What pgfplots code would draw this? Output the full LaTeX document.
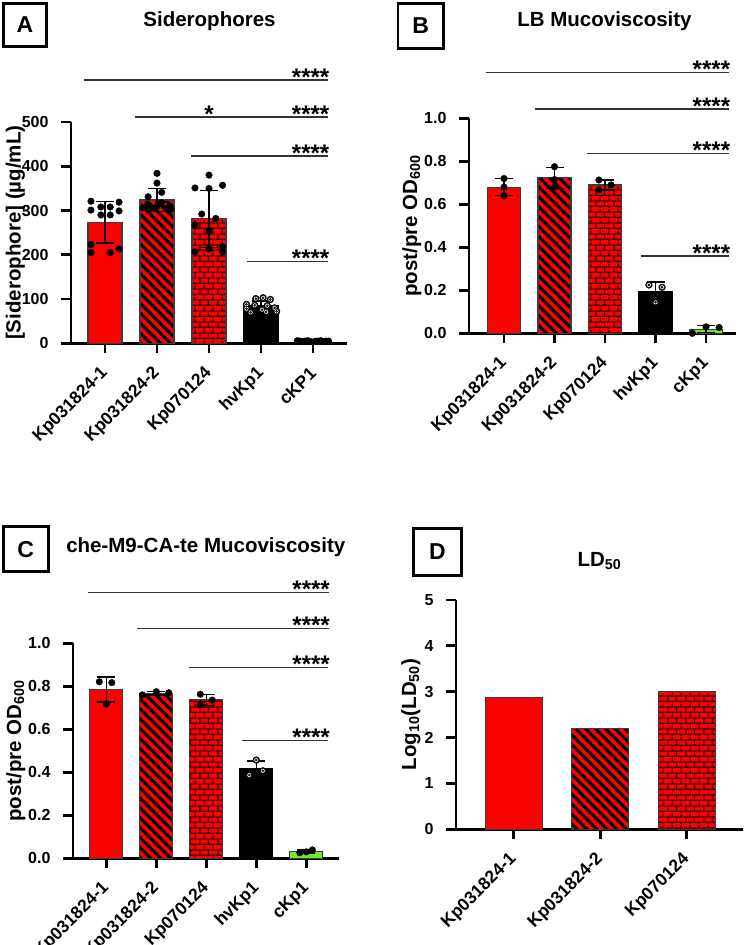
\documentclass[border=0pt]{standalone}
\usepackage{fontspec}
\setmainfont{Liberation Sans}
\usepackage{pgfplots}
\usepackage{pgfplotstable}
\pgfplotsset{compat=1.18}
\usetikzlibrary{patterns,patterns.meta}

\definecolor{barred}{RGB}{250,2,2}
\definecolor{barline}{RGB}{60,60,60}
\definecolor{mortar}{RGB}{60,0,0}
\definecolor{limebar}{RGB}{115,230,45}
\definecolor{sigline}{RGB}{50,50,50}

\newcommand{\tickfont}{\fontsize{16}{19}\selectfont\bfseries}
\newcommand{\xlabfont}{\fontsize{17.5}{20}\selectfont\bfseries}
\newcommand{\labfont}{\fontsize{20.5}{24}\selectfont\bfseries}
\newcommand{\titlefont}{\fontsize{20.5}{24}\selectfont\bfseries}
\newcommand{\starfont}{\fontsize{24}{26}\selectfont\bfseries}
\newcommand{\boxfont}{\fontsize{23}{26}\selectfont\bfseries}

% brick fill used for Kp070124
\tikzdeclarepattern{
  name=redbricks,
  type=uncolored,
  bottom left={(0pt,0pt)},
  top right={(18pt,11pt)},
  tile size={(18pt,11pt)},
  code={
    \draw[line width=1.3pt] (0pt,2pt) -- (18pt,2pt);
    \draw[line width=1.3pt] (0pt,7.5pt) -- (18pt,7.5pt);
    \draw[line width=1.3pt] (2pt,2pt) -- (2pt,7.5pt);
    \draw[line width=1.3pt] (11pt,2pt) -- (11pt,7.5pt);
    \draw[line width=1.3pt] (6.5pt,7.5pt) -- (6.5pt,11pt);
    \draw[line width=1.3pt] (6.5pt,0pt) -- (6.5pt,2pt);
    \draw[line width=1.3pt] (15.5pt,7.5pt) -- (15.5pt,11pt);
    \draw[line width=1.3pt] (15.5pt,0pt) -- (15.5pt,2pt);
  }
}

\pgfplotsset{
  panel/.style={
    scale only axis, clip=false,
    axis x line*=bottom, axis y line*=left,
    axis line style={line width=2.6pt, -},
    tick style={line width=2.6pt, black},
    major tick length=10pt,
    tick align=outside,
    ymin=0,
    /pgf/number format/assume math mode=true,
    yticklabel style={font=\tickfont, xshift=-9pt},
    xticklabel style={font=\xlabfont, xshift=2.5pt, yshift=-15pt, rotate=45, anchor=east},
  },
  solidbar/.style={ybar, bar shift=0pt, fill=barred, draw=barline, line width=1.2pt},
  stripebar/.style={solidbar, postaction={pattern={Lines[angle=-45,distance=7pt,line width=3pt]}, pattern color=black}},
  brickbar/.style={solidbar, postaction={pattern=redbricks, pattern color=mortar}},
  blackbar/.style={ybar, bar shift=0pt, fill=black, draw=black, line width=1.2pt},
  greenbar/.style={ybar, bar shift=0pt, fill=limebar, draw=barline, line width=1.2pt},
  sderr/.style={draw=none, mark=none, forget plot,
    error bars/.cd, y dir=both, y explicit, error mark=|,
    error bar style={draw=black, solid, line width=1.3pt},
    error mark options={draw=black, line width=1.3pt, mark size=9pt}},
  dots/.style={only marks, mark=*, mark size=3.3pt, mark options={draw=black, fill=black}},
  ringout/.style={only marks, mark=*, mark size=3.4pt, mark options={draw=black, fill=black}},
  ringin/.style={only marks, mark=*, mark size=2.4pt, mark options={draw=none, fill=white}},
  ringcore/.style={only marks, mark=*, mark size=1.1pt, mark options={draw=none, fill=black!70}},
}

% Siderophore replicates (x = strain index + jitter)
\pgfplotstableread{
x y
-0.27 321
0.27 319
-0.08 308
0.10 308
-0.27 301
0.27 299
-0.08 290
0.10 290
-0.27 223
0.27 213
-0.27 205
0.10 205
1.00 384
1.00 362
0.83 331
1.09 341
0.81 311
1.09 318
0.73 306
1.00 310
1.25 309
1.18 305
0.90 304
1.27 303
2.00 380
2.26 357
1.73 351
2.00 350
1.86 292
2.13 282
1.73 267
2.00 254
2.00 213
1.73 207
2.26 218
2.26 207
3.70 6
3.75 5
3.80 4
3.85 5
3.90 6
3.95 4
4.05 5
4.10 5
4.15 6
4.20 4
4.25 5
4.30 5
}\sidA
\pgfplotstableread{
x y
2.90 101
3.04 103
3.18 99
2.72 88
2.88 86
3.12 85
3.26 80
2.72 78
3.02 76
2.80 70
3.10 71
3.30 72
}\ringA

% LB mucoviscosity replicates
\pgfplotstableread{
x y
0.00 0.720
0.00 0.680
0.00 0.640
1.00 0.775
1.00 0.715
1.00 0.680
1.88 0.713
2.12 0.690
1.88 0.667
3.73 0.000
4.00 0.030
4.26 0.027
}\mucB
\pgfplotstableread{
x y
2.87 0.225
3.13 0.214
3.00 0.144
}\ringB

% che-M9-CA-te mucoviscosity replicates
\pgfplotstableread{
x y
-0.14 0.821
0.11 0.817
0.00 0.718
0.72 0.760
1.00 0.775
1.25 0.770
1.88 0.763
1.88 0.713
2.12 0.736
3.87 0.026
4.12 0.039
4.00 0.030
}\mucC
\pgfplotstableread{
x y
3.00 0.457
2.86 0.387
3.13 0.407
}\ringC

\begin{document}
\begin{tikzpicture}
\path[use as bounding box] (0pt,0pt) rectangle (744pt,-945pt);

% ---------------- A: Siderophores ----------------
\draw[line width=2.7pt] (3.3pt,-3.3pt) rectangle (46.7pt,-46.7pt);
\node[font=\boxfont] at (25pt,-25pt) {A};
\node[font=\titlefont, anchor=base] at (209.5pt,-26pt) {Siderophores};
\node[font=\labfont, rotate=90, anchor=base] at (20.5pt,-232.7pt) {[Siderophore] (µg/mL)};
\begin{axis}[panel, at={(71pt,-343.3pt)}, anchor=south west,
  width=276pt, height=221.3pt,
  xmin=-0.654, xmax=4.654, ymax=500,
  ytick={0,100,200,300,400,500}, yticklabels={0,100,200,300,400,500},
  xtick={0,1,2,3,4}, xticklabels={Kp031824-1,Kp031824-2,Kp070124,hvKp1,cKP1}]
\addplot[solidbar, bar width=34pt] coordinates {(0,273.5)};
\addplot[stripebar, bar width=34pt] coordinates {(1,323.7)};
\addplot[brickbar, bar width=34pt] coordinates {(2,281.5)};
\addplot[blackbar, bar width=34pt] coordinates {(3,84.1)};
\addplot[greenbar, bar width=34pt] coordinates {(4,5)};
\addplot[sderr] coordinates {(0,273.5) +- (0,47) (1,323.7) +- (0,26.2) (2,281.5) +- (0,64.5) (3,84.1) +- (0,11.8) (4,5) +- (0,0.7)};
\addplot[dots] table {\sidA};
\addplot[ringout] table {\ringA};
\addplot[ringin] table {\ringA};
\addplot[ringcore] table {\ringA};
\end{axis}
\begin{scope}[line width=1.3pt, sigline]
\draw (84pt,-80pt) -- (328pt,-80pt);
\draw (135pt,-117pt) -- (328pt,-117pt);
\draw (191pt,-156pt) -- (328pt,-156pt);
\draw (247pt,-261.7pt) -- (328pt,-261.7pt);
\end{scope}
\begin{scope}[every node/.style={font=\starfont, inner sep=0pt, anchor=base east}]
\node at (329.5pt,-85.1pt) {****};
\node at (329.5pt,-122.1pt) {****};
\node[anchor=base] at (209pt,-122.1pt) {*};
\node at (329.5pt,-161.1pt) {****};
\node at (329.5pt,-266.8pt) {****};
\end{scope}

% ---------------- B: LB Mucoviscosity ----------------
\draw[line width=2.7pt] (398pt,-3.3pt) rectangle (443.7pt,-48.3pt);
\node[font=\boxfont] at (420.8pt,-25.8pt) {B};
\node[font=\titlefont, anchor=base] at (604.5pt,-26pt) {LB Mucoviscosity};
\node[font=\labfont, rotate=90, anchor=base] at (417pt,-225.8pt) {post/pre OD\textsubscript{600}};
\begin{axis}[panel, at={(469pt,-333.3pt)}, anchor=south west,
  width=267pt, height=215pt,
  xmin=-0.693, xmax=4.594, ymax=1.0,
  ytick={0,0.2,0.4,0.6,0.8,1.0}, yticklabels={0.0,0.2,0.4,0.6,0.8,1.0},
  xtick={0,1,2,3,4}, xticklabels={Kp031824-1,Kp031824-2,Kp070124,hvKp1,cKp1}]
\addplot[solidbar, bar width=33pt] coordinates {(0,0.680)};
\addplot[stripebar, bar width=33pt] coordinates {(1,0.723)};
\addplot[brickbar, bar width=33pt] coordinates {(2,0.690)};
\addplot[blackbar, bar width=33pt] coordinates {(3,0.194)};
\addplot[greenbar, bar width=33pt] coordinates {(4,0.019)};
\addplot[sderr] coordinates {(0,0.680) +- (0,0.040) (1,0.723) +- (0,0.048) (2,0.690) +- (0,0.023) (3,0.194) +- (0,0.044) (4,0.019) +- (0,0.0165)};
\addplot[dots] table {\mucB};
\addplot[ringout] table {\ringB};
\addplot[ringin] table {\ringB};
\addplot[ringcore] table {\ringB};
\end{axis}
\begin{scope}[line width=1.3pt, sigline]
\draw (486pt,-72.3pt) -- (728.7pt,-72.3pt);
\draw (535.3pt,-109pt) -- (728.7pt,-109pt);
\draw (587pt,-153.3pt) -- (728.7pt,-153.3pt);
\draw (640.7pt,-256pt) -- (728.7pt,-256pt);
\end{scope}
\begin{scope}[every node/.style={font=\starfont, inner sep=0pt, anchor=base east}]
\node at (730.3pt,-77.4pt) {****};
\node at (730.3pt,-114.1pt) {****};
\node at (730.3pt,-158.4pt) {****};
\node at (730.3pt,-261.1pt) {****};
\end{scope}

% ---------------- C: che-M9-CA-te Mucoviscosity ----------------
\draw[line width=2.7pt] (3.3pt,-526.7pt) rectangle (48.3pt,-571.7pt);
\node[font=\boxfont] at (25.8pt,-549.2pt) {C};
\node[font=\titlefont, anchor=base] at (205.8pt,-552.3pt) {che-M9-CA-te Mucoviscosity};
\node[font=\labfont, rotate=90, anchor=base] at (21pt,-750.8pt) {post/pre OD\textsubscript{600}};
\begin{axis}[panel, at={(73pt,-858.3pt)}, anchor=south west,
  width=266pt, height=215pt,
  xmin=-0.666, xmax=4.654, ymax=1.0,
  ytick={0,0.2,0.4,0.6,0.8,1.0}, yticklabels={0.0,0.2,0.4,0.6,0.8,1.0},
  xtick={0,1,2,3,4}, xticklabels={Kp031824-1,Kp031824-2,Kp070124,hvKp1,cKp1}]
\addplot[solidbar, bar width=33pt] coordinates {(0,0.785)};
\addplot[stripebar, bar width=33pt] coordinates {(1,0.768)};
\addplot[brickbar, bar width=33pt] coordinates {(2,0.737)};
\addplot[blackbar, bar width=33pt] coordinates {(3,0.417)};
\addplot[greenbar, bar width=33pt] coordinates {(4,0.032)};
\addplot[sderr] coordinates {(0,0.785) +- (0,0.058) (1,0.768) +- (0,0.008) (2,0.737) +- (0,0.025) (3,0.417) +- (0,0.036) (4,0.032) +- (0,0.0067)};
\addplot[dots] table {\mucC};
\addplot[ringout] table {\ringC};
\addplot[ringin] table {\ringC};
\addplot[ringcore] table {\ringC};
\end{axis}
\begin{scope}[line width=1.3pt, sigline]
\draw (88.3pt,-592.7pt) -- (329.3pt,-592.7pt);
\draw (137.3pt,-628.3pt) -- (329.3pt,-628.3pt);
\draw (189.3pt,-667.3pt) -- (328.3pt,-667.3pt);
\draw (241.7pt,-740.7pt) -- (328.3pt,-740.7pt);
\end{scope}
\begin{scope}[every node/.style={font=\starfont, inner sep=0pt, anchor=base east}]
\node at (330pt,-597.8pt) {****};
\node at (330pt,-633.4pt) {****};
\node at (330pt,-672.4pt) {****};
\node at (330pt,-745.8pt) {****};
\end{scope}

% ---------------- D: LD50 ----------------
\draw[line width=2.7pt] (413.7pt,-528.3pt) rectangle (461.3pt,-575.7pt);
\node[font=\boxfont] at (437.5pt,-552pt) {D};
\node[font=\titlefont, anchor=base] at (599.5pt,-566pt) {LD\textsubscript{50}};
\node[font=\labfont, rotate=90, anchor=base] at (416pt,-714.6pt) {Log\textsubscript{10}(LD\textsubscript{50})};
\begin{axis}[panel, at={(456pt,-829.3pt)}, anchor=south west,
  width=286.7pt, height=229.5pt,
  xmin=-0.667, xmax=2.647, ymax=5,
  ytick={0,1,2,3,4,5}, yticklabels={0,1,2,3,4,5},
  xtick={0,1,2}, xticklabels={Kp031824-1,Kp031824-2,Kp070124}]
\addplot[solidbar, bar width=57pt] coordinates {(0,2.876)};
\addplot[stripebar, bar width=57pt] coordinates {(1,2.19)};
\addplot[brickbar, bar width=57pt] coordinates {(2,3.01)};
\end{axis}
\end{tikzpicture}
\end{document}
